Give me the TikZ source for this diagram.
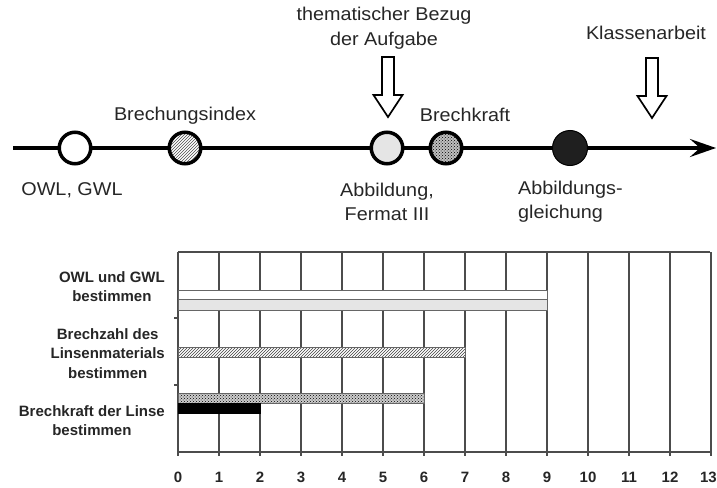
\documentclass[tikz,border=0pt]{standalone}
\usepackage{fontspec}
\setmainfont{Liberation Sans}
\newfontfamily\tlfont[FakeStretch=1.07]{Liberation Sans}
\usetikzlibrary{patterns,arrows.meta}
\begin{document}
\begin{tikzpicture}[x=1pt,y=-1pt,
  tltext/.style={font=\tlfont\fontsize{18.5}{24}\selectfont, text=black!85, inner sep=0pt, align=center},
  lbltext/.style={font=\bfseries\fontsize{15}{19.5}\selectfont, text=black!85, inner sep=0pt, align=center, anchor=east},
  numtext/.style={font=\bfseries\fontsize{15}{18}\selectfont, text=black!85, inner sep=0pt},
  ring/.style={circle, draw=black, line width=3.5pt, minimum size=31.5pt, inner sep=0pt},
  grid/.style={draw=black!70, line width=1.1pt},
  bar/.style={draw=black!60, line width=0.9pt},
  hollowarrow/.pic={\draw[line width=1.7pt, fill=white, line join=miter]
     (-6,-60) -- (6,-60) -- (6,-22) -- (14.5,-22) -- (0,0) -- (-14.5,-22) -- (-6,-22) -- cycle;}
]
\useasboundingbox (0,0) rectangle (717,487);

% ---------- timeline ----------
\coordinate (tstart) at (13,148);
\coordinate (tend) at (716,148);
\draw[line width=3.3pt, -{Stealth[length=26pt,width=18pt,inset=10pt]}] (tstart) -- (tend);

\node[ring, fill=white] (c1) at (75,148) {};
\node[ring, preaction={fill=white}, pattern=north east lines, pattern color=black!70] (c2) at (185,148) {};
\node[ring, fill=black!10] (c3) at (387,148) {};
\node[ring, preaction={fill=black!25}, pattern=crosshatch dots, pattern color=black] (c4) at (446,148) {};
\node[circle, fill=black!88, draw=black, line width=1pt, minimum size=35pt, inner sep=0pt] (c5) at (570,148) {};

\node[tltext] (t1) at (72,190) {OWL, GWL};
\node[tltext] (t2) at (185,116) {Brechungsindex};
\node[tltext] (t3) at (387,201.5) {Abbildung,\\Fermat III};
\node[tltext] (t4) at (465,115) {Brechkraft};
\node[tltext, anchor=west, align=left] (t5) at (518,201.5) {Abbildungs-\\gleichung};
\node[tltext, font=\tlfont\fontsize{18.5}{25}\selectfont] (t6) at (384,28.5) {thematischer Bezug\\der Aufgabe};
\node[tltext] (t7) at (646,33) {Klassenarbeit};

\pic at (388,117) {hollowarrow};
\pic at (652,118) {hollowarrow};

% ---------- chart ----------
\foreach \i in {0,...,13} {
  \draw[grid] ({178+41*\i},252) -- ({178+41*\i},452);
  \draw[grid] ({178+41*\i},452) -- ({178+41*\i},456);
}
\foreach \i in {0,...,12} {
  \node[numtext] (n\i) at ({178+41*\i},477) {\i};
}
\node[numtext, anchor=east] (n13) at (717,477) {13};
\draw[grid] (178,252) -- (710,252);
\draw[grid] (178,452) -- (712,452);
\draw[grid] (174,318) -- (178,318);
\draw[grid] (174,385) -- (178,385);

% bars
\draw[bar, fill=white] (178,290) rectangle (547,299);
\draw[bar, fill=black!10] (178,299) rectangle (547,310);
\draw[bar, preaction={fill=white}, pattern=north east lines, pattern color=black!75] (178,347) rectangle (465,357);
\draw[bar, preaction={fill=black!20}, pattern=crosshatch dots, pattern color=black] (178,393) rectangle (424,403);
\draw[bar, fill=black, draw=black] (178,403) rectangle (260,413);

% labels
\node[lbltext] (l1) at (165,286.5) {OWL und GWL\\bestimmen};
\node[lbltext] (l2) at (165,353.5) {Brechzahl des\\Linsenmaterials\\bestimmen};
\node[lbltext] (l3) at (165,420.5) {Brechkraft der Linse\\bestimmen};
\end{tikzpicture}
\end{document}
